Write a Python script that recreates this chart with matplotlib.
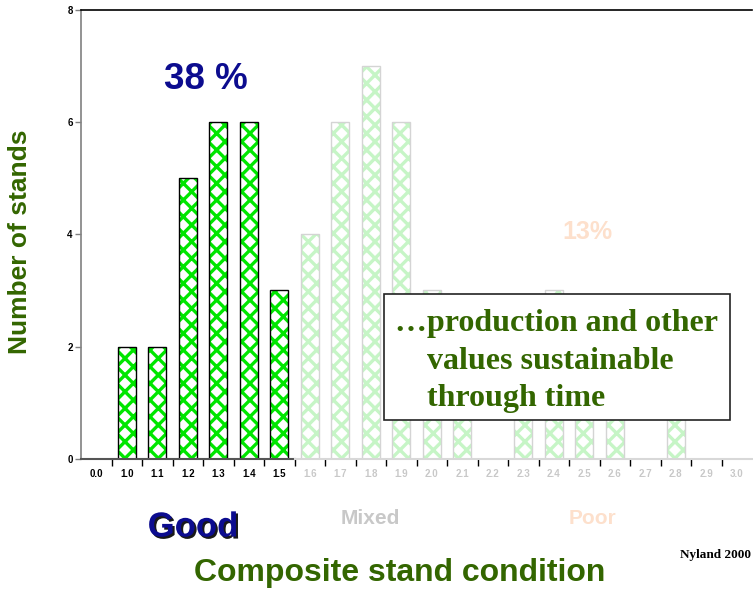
import matplotlib
matplotlib.use('Agg')
import matplotlib.pyplot as plt
import matplotlib.patheffects as pe
from matplotlib.patches import Rectangle

# stand counts per composite condition class
categories = ['0.0', '1.0', '1.1', '1.2', '1.3', '1.4', '1.5', '1.6', '1.7', '1.8', '1.9',
              '2.0', '2.1', '2.2', '2.3', '2.4', '2.5', '2.6', '2.7', '2.8', '2.9', '3.0']
stands = [0, 2, 2, 5, 6, 6, 3, 4, 6, 7, 6, 3, 2, 0, 2, 3, 2, 2, 0, 1, 0, 0]
n_good = 7  # 0.0 .. 1.5 are "good" stands

green_txt = '#336600'
navy = '#0c0c8f'
peach = '#fde0cc'
light_gray = '#c8c8c8'

plt.rcParams['font.family'] = ['Liberation Sans', 'DejaVu Sans']
plt.rcParams['hatch.linewidth'] = 2.4

fig = plt.figure(figsize=(7.53, 5.92), dpi=100)
ax = fig.add_axes([0.1076, 0.2247, 0.8912, 0.759])

x = list(range(len(categories)))
for i, v in enumerate(stands):
    if v == 0:
        continue
    good = i < n_good
    hcol = '#00e600' if good else '#c6f5c6'
    ecol = 'black' if good else '#d4d4d4'
    ax.bar(x[i], v, width=0.6, color='white', edgecolor=hcol, hatch='xx', linewidth=0, zorder=2)
    ax.bar(x[i], v, width=0.6, fill=False, edgecolor=ecol, linewidth=1.0, zorder=3)

ax.set_xlim(-0.5, len(categories) - 0.5)
ax.set_ylim(0, 8)
ax.set_yticks([0, 2, 4, 6, 8])
ax.tick_params(axis='y', length=4, width=1, color='#808080', labelsize=7, pad=2)
for lab in ax.get_yticklabels():
    lab.set_fontweight('bold')

ax.set_xticks(x)
ax.set_xticklabels(categories, fontsize=7, fontweight='bold')
ax.set_xticks([i + 0.5 for i in x[:-1]], minor=True)
ax.tick_params(axis='x', which='major', length=0, pad=7)
ax.tick_params(axis='x', which='minor', length=5, width=1)
for i, lab in enumerate(ax.get_xticklabels()):
    lab.set_color('black' if i < n_good else light_gray)
for i, t in enumerate(ax.xaxis.get_minor_ticks()):
    t.tick1line.set_color('black' if i < n_good - 1 else '#d0d0d0')

ax.spines['right'].set_visible(False)
ax.spines['bottom'].set_visible(False)
ax.spines['left'].set_color('#808080')
ax.spines['left'].set_linewidth(1.2)
ax.spines['top'].set_color('black')
ax.spines['top'].set_linewidth(1.2)
split = n_good / len(categories)
ax.axhline(0, xmin=0, xmax=split, color='#555555', lw=1.5, clip_on=False, zorder=4)
ax.axhline(0, xmin=split, xmax=1, color='#d8d8d8', lw=1.5, clip_on=False, zorder=4)

# share labels
ax.text(3.6, 6.75, '38 %', color=navy, fontsize=26.5, fontweight='bold', ha='center', va='center')
ax.text(16.1, 4.05, '13%', color=peach, fontsize=18, fontweight='bold', ha='center', va='center')

# callout box
fig.patches.append(Rectangle((384 / 753, 1 - 420 / 592), 346 / 753, 126 / 592,
                             transform=fig.transFigure, facecolor='white',
                             edgecolor='#222222', linewidth=1.2, zorder=5))
serif = ['Liberation Serif', 'DejaVu Serif']
box_lines = [('\u2026production and other', 395, 331),
             ('values sustainable', 427, 369),
             ('through time', 427, 406)]
for s, px, py in box_lines:
    fig.text(px / 753, 1 - py / 592, s, family=serif, fontsize=23, fontweight='bold',
             color=green_txt, ha='left', va='baseline', zorder=6)

# condition class labels
fig.text(193 / 753, 1 - 527 / 592, 'Good', color=navy, fontsize=25, fontweight='bold',
         ha='center', va='center',
         path_effects=[pe.withSimplePatchShadow(offset=(1.5, -1.5), shadow_rgbFace='black', alpha=0.9)])
fig.text(370 / 753, 1 - 518 / 592, 'Mixed', color=light_gray, fontsize=15, fontweight='bold',
         ha='center', va='center')
fig.text(593 / 753, 1 - 518 / 592, 'Poor', color=peach, fontsize=15, fontweight='bold',
         ha='center', va='center')
fig.text(680 / 753, 1 - 555 / 592, 'Nyland 2000', family=serif, fontsize=9.5, fontweight='bold',
         ha='left', va='center')

fig.text(400 / 753, 1 - 573 / 592, 'Composite stand condition', color=green_txt, fontsize=23,
         fontweight='bold', ha='center', va='center')
fig.text(20 / 753, 1 - 242 / 592, 'Number of stands', color=green_txt, fontsize=19,
         fontweight='bold', ha='center', va='center', rotation=90)

fig.savefig('out.png', dpi=100)
